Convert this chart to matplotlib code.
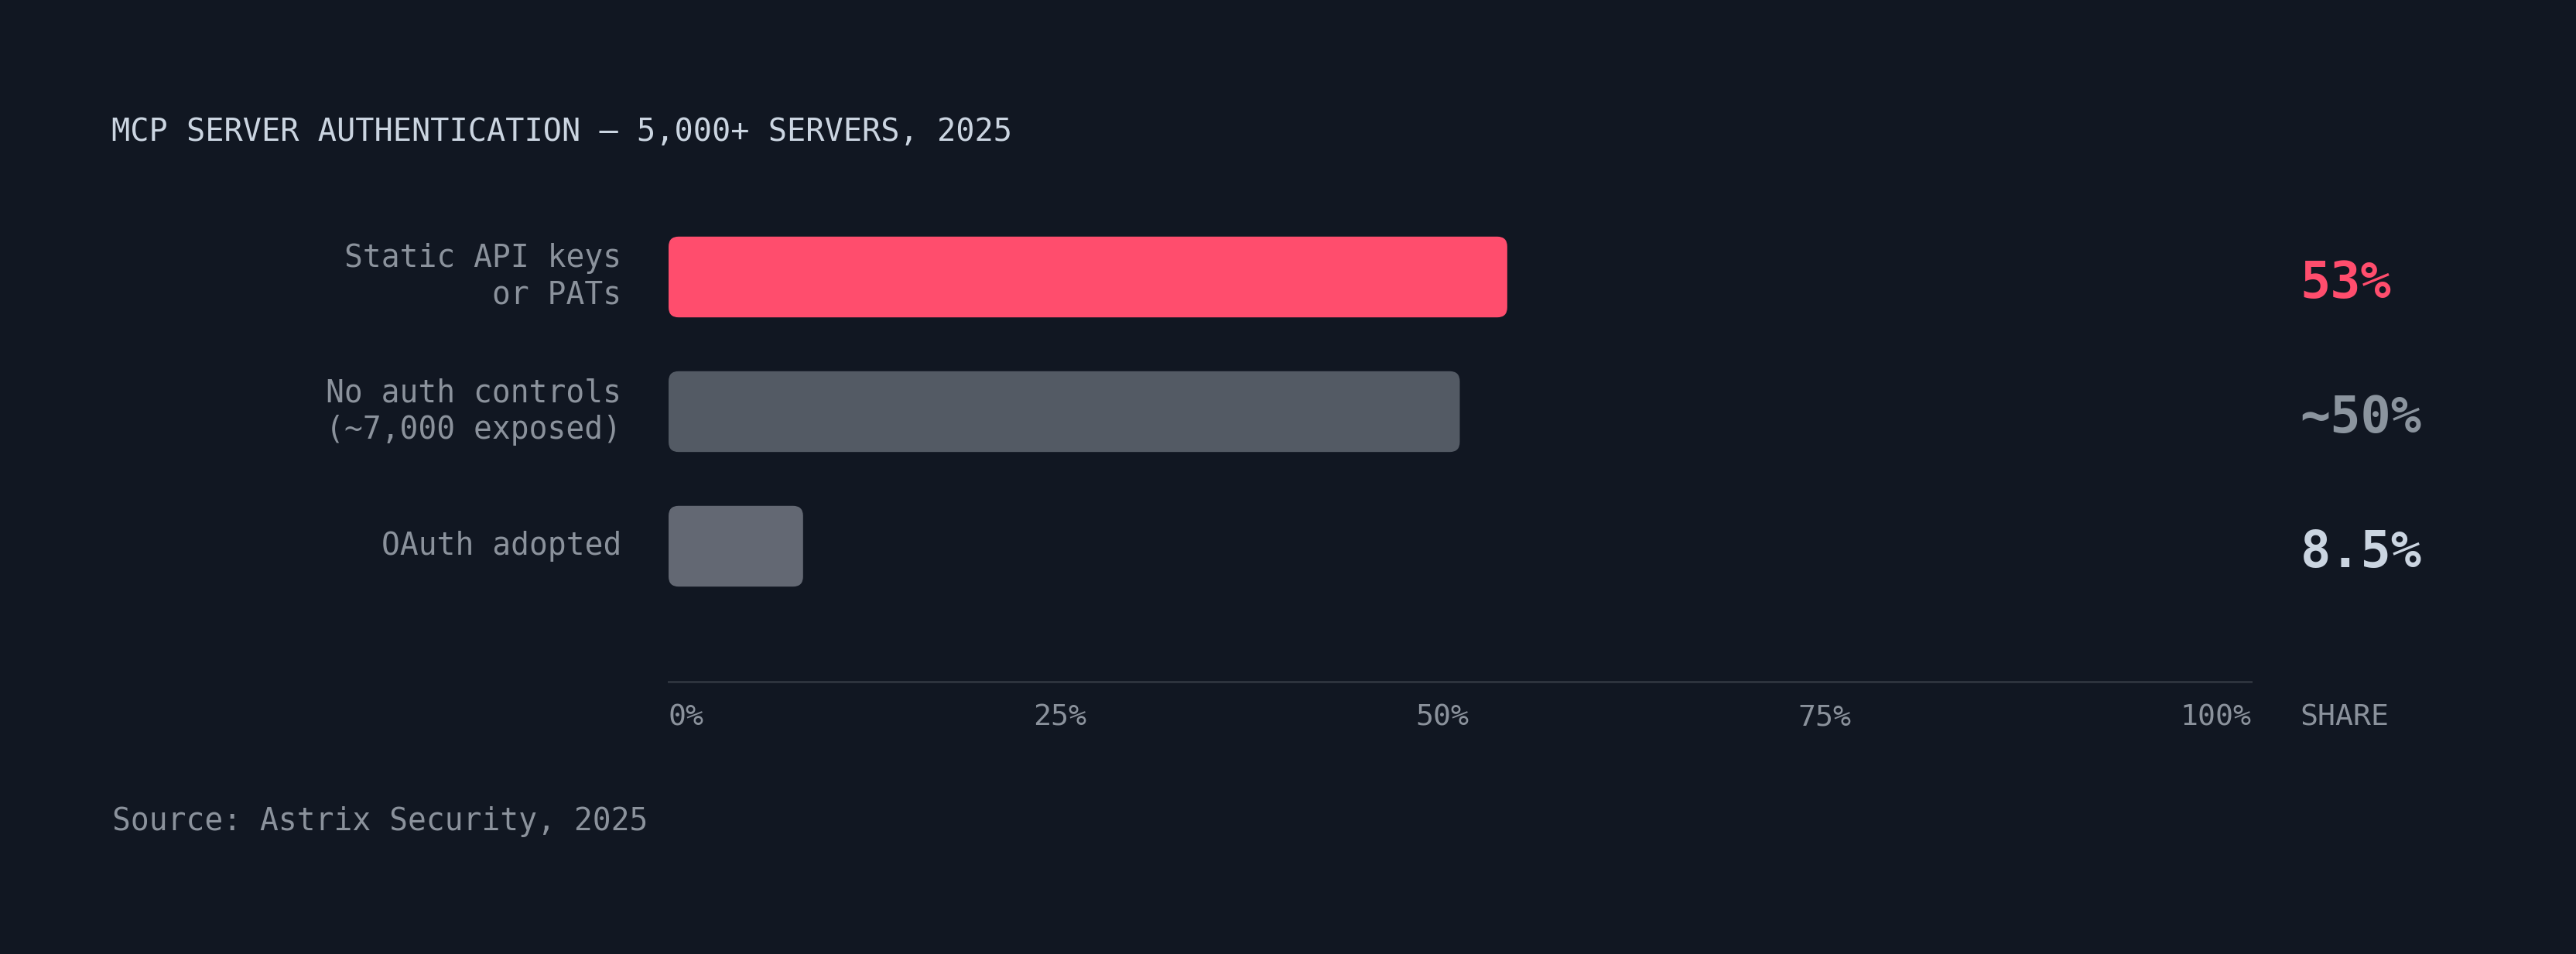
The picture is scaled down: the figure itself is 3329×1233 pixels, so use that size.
import matplotlib
matplotlib.use("Agg")
import matplotlib.pyplot as plt
from matplotlib.patches import FancyBboxPatch
from matplotlib.transforms import ScaledTranslation

# data
categories = ["Static API keys\nor PATs", "No auth controls\n(~7,000 exposed)", "OAuth adopted"]
shares = [53, 50, 8.5]
value_labels = ["53%", "~50%", "8.5%"]
tick_values = [0, 25, 50, 75, 100]
tick_labels = ["0%", "25%", "50%", "75%", "100%"]

bg = "#111722"
bar_colors = ["#ff4d6d", "#535a64", "#636873"]
value_colors = ["#ff4d6d", "#8b949e", "#cbd5e1"]
label_color = "#8b929c"
title_color = "#cbd5e1"
mono = "DejaVu Sans Mono"

W, H, DPI = 3330, 1233, 100
fig = plt.figure(figsize=(W / DPI, H / DPI), dpi=DPI, facecolor=bg)

# axes box in pixels: x 864..2909, y 271..881 (from top)
ax = fig.add_axes([864 / W, (H - 881) / H, 2045 / W, 610 / H])
ax.set_facecolor(bg)
ax.set_xlim(0, 100)
ax.set_ylim(3.006, -0.5)
for s in ["top", "right", "left"]:
    ax.spines[s].set_visible(False)
ax.spines["bottom"].set_color("#2d333d")
ax.spines["bottom"].set_linewidth(2.2)
ax.set_xticks([])
ax.set_yticks([])

# rounded bars
x_per_px = 100 / 2045
y_per_px = 3.506 / 610
aspect = y_per_px / x_per_px
bar_h = 0.6
for i, (v, c) in enumerate(zip(shares, bar_colors)):
    p = FancyBboxPatch((0, i - bar_h / 2), v, bar_h,
                       boxstyle="round,pad=0,rounding_size=%f" % (13 * x_per_px),
                       mutation_aspect=aspect, facecolor=c, edgecolor="none")
    ax.add_patch(p)

# category labels
for i, lab in enumerate(categories):
    ax.text(-2.98, i, lab, ha="right", va="center", fontsize=28.5, family=mono,
            color=label_color, linespacing=1.25, clip_on=False)

# values column, same rows as the bars
for i, (t, c) in enumerate(zip(value_labels, value_colors)):
    ax.text(103.1, i + 0.155, t, ha="left", va="baseline", fontsize=47,
            family=mono, fontweight="bold", color=c, clip_on=False)

# x tick labels spread like space-between
tick_tf = ax.get_xaxis_transform() + ScaledTranslation(0, -56 / DPI, fig.dpi_scale_trans)
texts = [ax.text(v, 0, t, transform=tick_tf, ha="left", va="baseline", fontsize=27.5,
                 family=mono, color=label_color, clip_on=False)
         for v, t in zip(tick_values, tick_labels)]
fig.canvas.draw()
widths = [t.get_window_extent().width for t in texts]
axbox = ax.get_window_extent()
gap = (axbox.width - sum(widths)) / (len(texts) - 1)
xpix = axbox.x0
inv = ax.transData.inverted()
for t, w in zip(texts, widths):
    t.set_x(inv.transform((xpix, 0))[0])
    xpix += w + gap

ax.text(103.1, 0, "SHARE", transform=tick_tf, ha="left", va="baseline", fontsize=27.5,
        family=mono, color=label_color, clip_on=False)

fig.text(144 / W, 1 - 182 / H, "MCP SERVER AUTHENTICATION — 5,000+ SERVERS, 2025",
         ha="left", va="baseline", fontsize=29, family=mono, color=title_color)
fig.text(145 / W, 1 - 1073 / H, "Source: Astrix Security, 2025",
         ha="left", va="baseline", fontsize=28.5, family=mono, color=label_color)

fig.savefig("out.png", dpi=DPI, facecolor=bg)
